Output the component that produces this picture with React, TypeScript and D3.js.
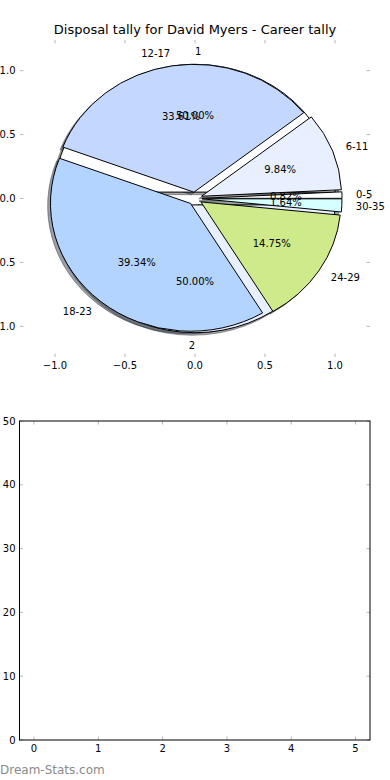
import React from "react";
import * as d3 from "d3";

const title = "Disposal tally for David Myers - Career tally";
const ranges = ["0-5", "6-11", "12-17", "18-23", "24-29", "30-35"];
const games = [1, 12, 41, 48, 18, 2];
const sliceColors = ["#ffffff", "#e8f0ff", "#c4d8ff", "#b3d4ff", "#cfea8a", "#d6ffff"];
const innerLabels = ["1", "2"];
const innerValues = [1, 1];
const pieTicks = [-1, -0.5, 0, 0.5, 1];
const barXTicks = [0, 1, 2, 3, 4, 5];
const barYTicks = [0, 10, 20, 30, 40, 50];
const watermark = "Dream-Stats.com";

const EXPLODE = 0.05;
const FONT = "DejaVu Sans, sans-serif";
const TICK = "#b8b8b8";

const fmtTick = (v: number) => (v < 0 ? "\u2212" : "") + Math.abs(v).toFixed(1);

type Wedge = {
  start: number;
  end: number;
  theta: number;
  color: string;
  label: string;
  pct: string;
};

function buildWedges(values: number[], labels: string[], colors: string[]): Wedge[] {
  const total = d3.sum(values);
  const arcs = d3
    .pie<number>()
    .sort(null)
    .startAngle(Math.PI / 2)
    .endAngle(Math.PI / 2 - 2 * Math.PI)(values);
  return arcs.map((a, i) => {
    const mid = (a.startAngle + a.endAngle) / 2;
    return {
      start: a.startAngle,
      end: a.endAngle,
      theta: Math.PI / 2 - mid,
      color: colors[i],
      label: labels[i],
      pct: ((values[i] / total) * 100).toFixed(2) + "%",
    };
  });
}

export default function App() {
  const W = 390;
  const H = 780;

  // pie axes
  const px = d3.scaleLinear().domain([-1.25, 1.25]).range([20, 370]);
  const py = d3.scaleLinear().domain([-1.24, 1.24]).range([357, 40]);
  const kx = px(1) - px(0);
  const ky = py(0) - py(1);

  // bottom axes
  const bx = d3.scaleLinear().domain([-0.225, 5.225]).range([19.5, 370]);
  const by = d3.scaleLinear().domain([0, 50]).range([740, 421]);

  const arcGen = d3.arc<any>().innerRadius(0).outerRadius(1);

  const outer = buildWedges(games, ranges, sliceColors);
  const inner = buildWedges(innerValues, innerLabels, sliceColors);
  const pies = [inner, outer];

  const shade = (c: string) => {
    const r = d3.rgb(c);
    return d3.rgb(r.r * 0.3, r.g * 0.3, r.b * 0.3).toString();
  };

  const wedgeTransform = (w: Wedge, dx = 0, dy = 0) => {
    const ox = EXPLODE * Math.cos(w.theta) + dx;
    const oy = EXPLODE * Math.sin(w.theta) + dy;
    return `translate(${px(ox)},${py(oy)}) scale(${kx},${ky})`;
  };

  const textPos = (w: Wedge, dist: number) => {
    const x = EXPLODE * Math.cos(w.theta) + dist * Math.cos(w.theta);
    const y = EXPLODE * Math.sin(w.theta) + dist * Math.sin(w.theta);
    return { x, y };
  };

  const tl = 3.5;

  return (
    <svg
      width={W}
      height={H}
      style={{ position: "absolute", left: 0, top: 0, background: "#fff" }}
      fontFamily={FONT}
    >
      <rect x={0} y={0} width={W} height={H} fill="#fff" />
      <text x={195} y={34} textAnchor="middle" fontSize={13} fill="#000">
        {title}
      </text>

      {/* shadows */}
      {pies.map((p, pi) =>
        p.map((w, i) => (
          <path
            key={`s${pi}-${i}`}
            d={arcGen({ startAngle: w.start, endAngle: w.end }) as string}
            transform={wedgeTransform(w, -0.02, -0.02)}
            fill={shade(w.color)}
            stroke={shade(w.color)}
            fillOpacity={0.5}
            strokeOpacity={0.5}
            strokeWidth={1}
            vectorEffect="non-scaling-stroke"
          />
        ))
      )}
      {/* wedges */}
      {pies.map((p, pi) =>
        p.map((w, i) => (
          <path
            key={`w${pi}-${i}`}
            d={arcGen({ startAngle: w.start, endAngle: w.end }) as string}
            transform={wedgeTransform(w)}
            fill={w.color}
            stroke="#000"
            strokeWidth={1}
            strokeLinejoin="round"
            vectorEffect="non-scaling-stroke"
          />
        ))
      )}
      {/* texts */}
      {pies.map((p, pi) =>
        p.map((w, i) => {
          const l = textPos(w, 1.1);
          const c = textPos(w, 0.6);
          return (
            <g key={`t${pi}-${i}`} fontSize={10} fill="#000">
              <text
                x={px(l.x)}
                y={py(l.y)}
                textAnchor={l.x > 1e-9 || (Math.abs(l.x) <= 1e-9 && Math.cos(w.theta) > 0) ? "start" : "end"}
                dominantBaseline="central"
              >
                {w.label}
              </text>
              <text x={px(c.x)} y={py(c.y)} textAnchor="middle" dominantBaseline="central">
                {w.pct}
              </text>
            </g>
          );
        })
      )}

      {/* pie axes ticks */}
      {pieTicks.map((t) => (
        <g key={`px${t}`}>
          <line x1={px(t)} x2={px(t)} y1={357} y2={357 - tl} stroke={TICK} />
          <line x1={px(t)} x2={px(t)} y1={40} y2={40 + tl} stroke={TICK} />
          <text x={px(t)} y={369} textAnchor="middle" fontSize={10} fill="#000">
            {fmtTick(t)}
          </text>
        </g>
      ))}
      {pieTicks.map((t) => (
        <g key={`py${t}`}>
          <line x1={20} x2={20 + tl} y1={py(t)} y2={py(t)} stroke={TICK} />
          <line x1={370} x2={370 - tl} y1={py(t)} y2={py(t)} stroke={TICK} />
          <text x={15.5} y={py(t)} textAnchor="end" dominantBaseline="central" fontSize={10} fill="#000">
            {fmtTick(t)}
          </text>
        </g>
      ))}

      {/* bottom empty axes */}
      {barXTicks.map((t) => (
        <g key={`bx${t}`}>
          <line x1={bx(t)} x2={bx(t)} y1={740} y2={740 - tl} stroke={TICK} />
          <line x1={bx(t)} x2={bx(t)} y1={421} y2={421 + tl} stroke={TICK} />
          <text x={bx(t)} y={752} textAnchor="middle" fontSize={10} fill="#000">
            {t}
          </text>
        </g>
      ))}
      {barYTicks.map((t) => (
        <g key={`by${t}`}>
          <line x1={19.5} x2={19.5 + tl} y1={by(t)} y2={by(t)} stroke={TICK} />
          <line x1={370} x2={370 - tl} y1={by(t)} y2={by(t)} stroke={TICK} />
          <text x={15.5} y={by(t)} textAnchor="end" dominantBaseline="central" fontSize={10} fill="#000">
            {t}
          </text>
        </g>
      ))}
      <rect x={19.5} y={421} width={350.5} height={319} fill="none" stroke="#000" strokeWidth={1} />

      <text x={0} y={774} fontSize={12} fill="#8a8a8a">
        {watermark}
      </text>
    </svg>
  );
}
